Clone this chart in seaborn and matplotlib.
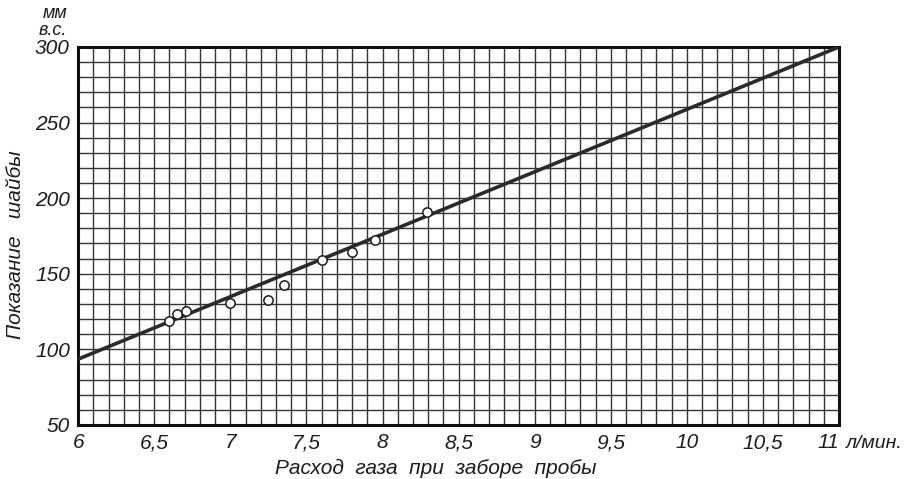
import numpy as np
import pandas as pd
import seaborn as sns
import matplotlib.pyplot as plt
from matplotlib import ticker

# Measured points (gas flow, l/min vs orifice reading, mm w.c.)
flow = [6.60, 6.65, 6.71, 7.00, 7.25, 7.35, 7.60, 7.80, 7.95, 8.29]
reading = [118.5, 123.5, 125, 130.5, 132.5, 142.5, 159, 164.5, 172, 190.5]

# Calibration line end points
fit_flow = [6.0, 11.0]
fit_reading = [93.5, 300.0]

x_ticks = [6, 6.5, 7, 7.5, 8, 8.5, 9, 9.5, 10, 10.5, 11]
x_labels = ["6", "6,5", "7", "7,5", "8", "8,5", "9", "9,5", "10", "10,5", "11"]
y_ticks = [50, 100, 150, 200, 250, 300]

sns.set_style("white")
plt.rcParams["font.family"] = ["Liberation Sans", "DejaVu Sans"]
plt.rcParams["font.style"] = "italic"

INK = "#1c1c1c"

fig = plt.figure(figsize=(9.09, 4.79), dpi=100)
ax = fig.add_axes([0.086, 0.113, 0.837, 0.789])

pts = pd.DataFrame({"flow": flow, "reading": reading})
fit = pd.DataFrame({"flow": fit_flow, "reading": fit_reading})

sns.lineplot(data=fit, x="flow", y="reading", color="#2a2a2a", linewidth=2.6,
             ax=ax, zorder=3)
sns.scatterplot(data=pts, x="flow", y="reading", s=45, facecolor="white",
                edgecolor=INK, linewidth=1.1, ax=ax, zorder=4)

ax.set_xlim(6, 11)
ax.set_ylim(50, 300)

# graph paper grid
ax.xaxis.set_minor_locator(ticker.MultipleLocator(0.1))
ax.yaxis.set_minor_locator(ticker.MultipleLocator(10))
ax.grid(which="both", color="#333333", linewidth=1.0)
ax.set_axisbelow(True)

ax.set_xticks(x_ticks)
ax.set_xticklabels(x_labels)
ax.set_yticks(y_ticks)
ax.tick_params(which="both", length=0, labelsize=15, colors=INK)
ax.tick_params(axis="x", pad=6)
ax.tick_params(axis="y", pad=6)

# last x label sits a bit left of its grid line, next to the unit
last = ax.get_xticklabels()[-1]
last.set_horizontalalignment("right")
last.set_x(11.04)

for s in ax.spines.values():
    s.set_color("#111111")
    s.set_linewidth(2.2)

ax.set_xlabel("Расход  газа  при  заборе  пробы", fontsize=15, color=INK)
ax.xaxis.set_label_coords(0.47, -0.09)
ax.set_ylabel("Показание   шайбы", fontsize=15, color=INK)
ax.yaxis.set_label_coords(-0.07, 0.476)

fig.text(0.061, 0.972, "мм", fontsize=13, color=INK, ha="center", va="center")
fig.text(0.058, 0.937, "в.с.", fontsize=13, color=INK, ha="center", va="center")
fig.text(0.931, 0.075, "л/мин.", fontsize=14, color=INK, ha="left", va="center")

fig.savefig("out.png", dpi=100, facecolor="white")
